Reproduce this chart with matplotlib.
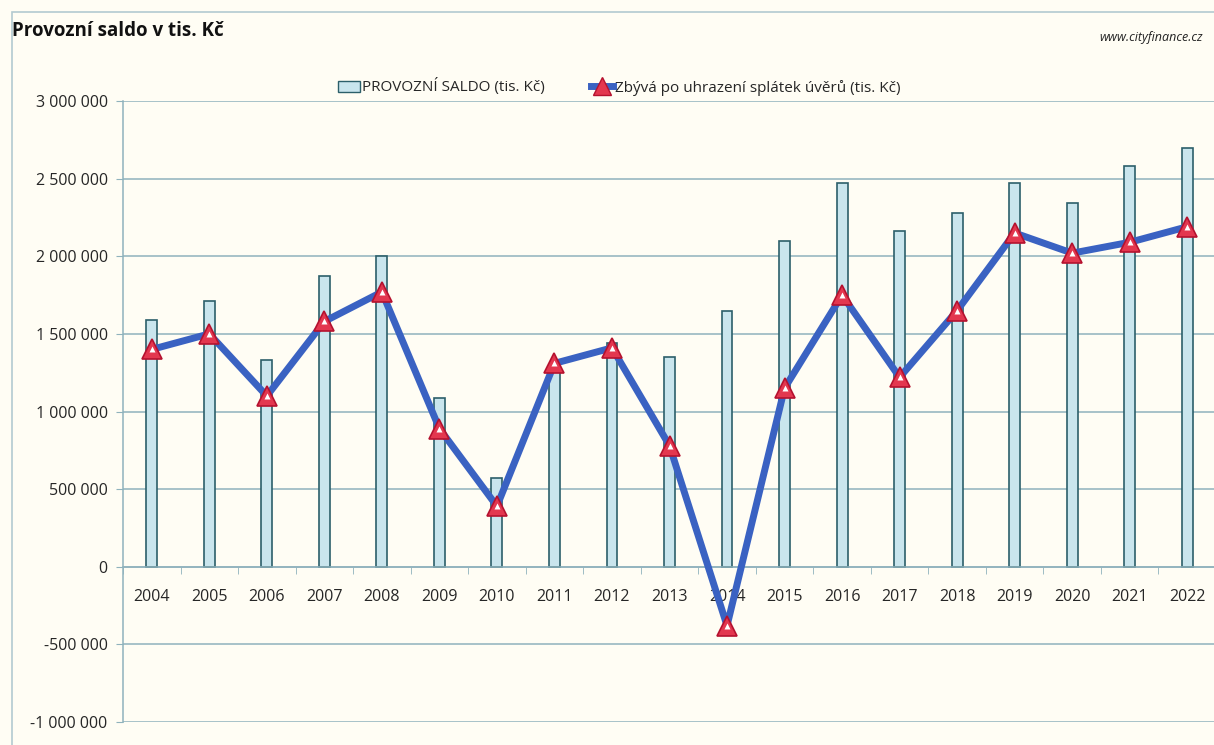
import matplotlib
matplotlib.use('Agg')
import matplotlib.pyplot as plt
from matplotlib.patches import Patch, Rectangle
from matplotlib.lines import Line2D
from matplotlib.ticker import FuncFormatter, FixedLocator
import numpy as np

# ---- data ----
years = [str(y) for y in range(2004, 2023)]
provozni_saldo = [1590000, 1710000, 1330000, 1870000, 2000000, 1090000, 570000,
                  1300000, 1440000, 1350000, 1650000, 2100000, 2470000, 2160000,
                  2280000, 2470000, 2340000, 2580000, 2700000]
zbyva = [1400000, 1500000, 1100000, 1580000, 1770000, 890000, 390000,
         1310000, 1410000, 780000, -380000, 1150000, 1750000, 1220000,
         1650000, 2150000, 2020000, 2090000, 2190000]
y_ticks = [-1000000, -500000, 0, 500000, 1000000, 1500000, 2000000, 2500000, 3000000]

title = "Provozní saldo v tis. Kč"
label_bar = "PROVOZNÍ SALDO (tis. Kč)"
label_line = "Zbývá po uhrazení splátek úvěrů (tis. Kč)"
source = "www.cityfinance.cz"

# ---- style ----
BG = '#fffdf4'
GRID = '#8fb2bc'
BAR_FILL = '#c9e5ed'
BAR_EDGE = '#2c5f6a'
LINE = '#3a62c2'
MARK = '#e3374f'
MARK_EDGE = '#b5122f'
TXT = '#262626'
FONT = ['Open Sans', 'DejaVu Sans']
plt.rcParams['font.family'] = FONT

W, H = 1214, 745
fig = plt.figure(figsize=(W / 100, H / 100), dpi=100, facecolor=BG)
ax = fig.add_axes([123 / W, 1 - 722 / H, (1216 - 123) / W, (722 - 101) / H])
ax.set_facecolor(BG)

x = np.arange(len(years))
ax.bar(x, provozni_saldo, width=0.19, color=BAR_FILL, edgecolor=BAR_EDGE,
       linewidth=1.2, zorder=2)
ax.plot(x, zbyva, color=LINE, linewidth=5, zorder=3, solid_joinstyle='round')
ax.plot(x, zbyva, linestyle='none', marker='^', markersize=15,
        markerfacecolor=MARK, markeredgecolor=MARK_EDGE, markeredgewidth=1.2, zorder=4)
ax.plot(x, zbyva, linestyle='none', marker='^', markersize=5,
        markerfacecolor='white', markeredgecolor='none', zorder=5)

ax.set_xlim(-0.5, len(years) - 0.5)
ax.set_ylim(y_ticks[0], y_ticks[-1])

ax.yaxis.set_major_locator(FixedLocator(y_ticks))
ax.yaxis.set_major_formatter(FuncFormatter(
    lambda v, p: '0' if v == 0 else f"{int(v):,}".replace(',', ' ')))
ax.grid(axis='y', color=GRID, linewidth=1.1, zorder=0)
ax.set_axisbelow(True)

for s in ['top', 'right']:
    ax.spines[s].set_visible(False)
ax.spines['left'].set_color(GRID)
ax.spines['left'].set_linewidth(1.1)
ax.spines['bottom'].set_position(('data', 0))
ax.spines['bottom'].set_color(GRID)
ax.spines['bottom'].set_linewidth(1.1)

ax.set_xticks(x)
ax.set_xticklabels(years)
ax.set_xticks(np.arange(-0.5, len(years), 1.0), minor=True)
ax.tick_params(axis='x', which='major', length=0, pad=16, labelsize=11.5, labelcolor=TXT)
ax.tick_params(axis='x', which='minor', length=5, color=GRID, direction='out')
ax.tick_params(axis='y', length=5, color=GRID, pad=6, labelsize=11.5, labelcolor=TXT)

# title & source
fig.text(12 / W, 1 - 31 / H, title, fontsize=13.5, fontweight='bold', color='#111111',
         ha='left', va='center')
fig.text(1203 / W, 1 - 38 / H, source, fontsize=9, style='italic', color='#222222',
         ha='right', va='center')

# legend
handles = [Patch(facecolor=BAR_FILL, edgecolor=BAR_EDGE, linewidth=1.0),
           Line2D([0], [0], color=LINE, linewidth=5, marker='^', markersize=13,
                  markerfacecolor=MARK, markeredgecolor=MARK_EDGE)]
fig.legend(handles, [label_bar, label_line], loc='center',
           bbox_to_anchor=(619 / W, 1 - 87 / H), ncol=2, frameon=False,
           fontsize=11, handlelength=1.5, handletextpad=0.1, columnspacing=3.0,
           labelcolor=TXT)

# outer frame
fig.add_artist(Rectangle((12 / W, -0.1), 1.2, 1 - 12 / H + 0.1, fill=False,
                         edgecolor='#b3cad1', linewidth=1.2,
                         transform=fig.transFigure))

fig.savefig('out.png', dpi=100, facecolor=BG)
